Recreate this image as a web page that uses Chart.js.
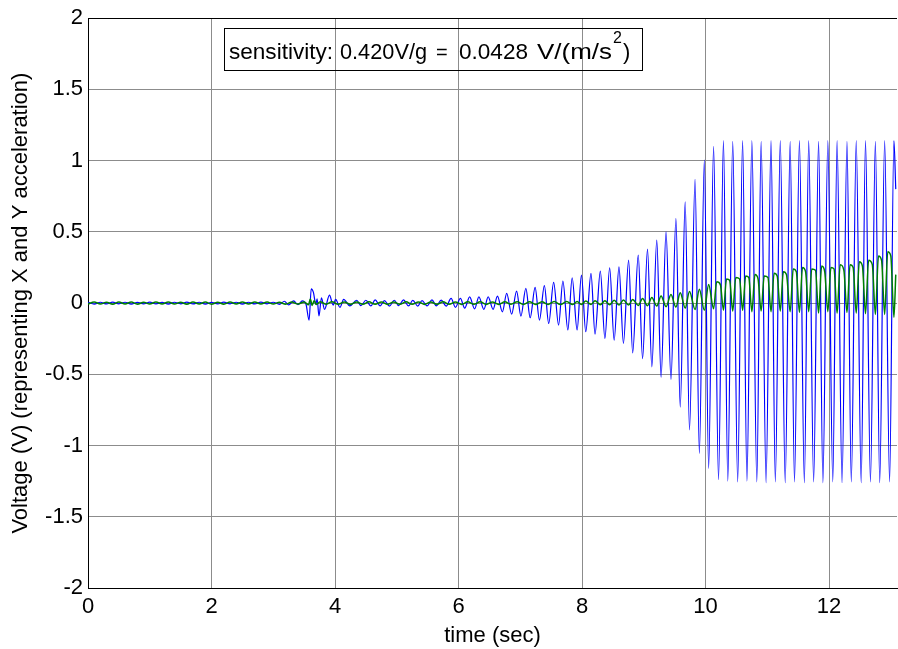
<!DOCTYPE html>
<html>
<head>
<meta charset="utf-8">
<script src="https://cdn.jsdelivr.net/npm/chart.js@4.4.0/dist/chart.umd.min.js"></script>
<style>
  html, body { margin: 0; padding: 0; background: #fff; }
  #wrap { width: 898px; height: 649px; }
</style>
</head>
<body>
<div id="wrap"><canvas id="c" width="898" height="649"></canvas></div>
<script>
var xTicks = [0, 2, 4, 6, 8, 10, 12];
var yTicks = [-2, -1.5, -1, -0.5, 0, 0.5, 1, 1.5, 2];

// blue trace (X acceleration), [time, volt]
var blueSeries = [
  [0.00,0.006],[0.10,-0.007],[0.20,0.006],[0.30,-0.006],[0.40,0.007],[0.50,-0.005],[0.60,0.006],[0.70,-0.007],[0.80,0.005],[0.90,-0.006],
  [1.00,0.007],[1.10,-0.006],[1.20,0.005],[1.30,-0.007],[1.40,0.006],[1.50,-0.005],[1.60,0.007],[1.70,-0.006],[1.80,0.006],[1.90,-0.007],
  [2.00,0.005],[2.10,-0.006],[2.20,0.007],[2.30,-0.005],[2.40,0.006],[2.50,-0.007],[2.60,0.006],[2.70,-0.006],[2.80,0.007],[2.90,-0.005],
  [3.00,0.006],[3.10,-0.009],[3.18,0.013],[3.25,-0.013],[3.33,0.016],[3.40,-0.011],[3.47,0.015],[3.53,-0.008],
  [3.58,-0.120],[3.615,0.100],[3.65,0.075],[3.69,-0.010],[3.71,0.030],[3.74,-0.090],[3.78,0.037],[3.83,-0.044],[3.91,0.056],[3.97,-0.014],
  [4.01,0.026],[4.08,-0.030],[4.14,0.026],[4.24,-0.020],[4.35,0.020],[4.42,-0.018],[4.50,0.020],[4.58,-0.020],[4.65,0.022],[4.73,-0.019],
  [4.80,0.018],[4.88,-0.021],[4.96,0.020],[5.03,-0.018],[5.11,0.022],[5.19,-0.020],[5.26,0.019],[5.34,-0.021],[5.41,0.018],[5.49,-0.020],
  [5.57,0.022],[5.64,-0.019],[5.72,0.021],[5.80,-0.021],[5.88,0.033],[5.95,-0.030],[6.03,0.033],[6.10,-0.035],[6.18,0.044],[6.26,-0.040],
  [6.33,0.044],[6.41,-0.044],[6.48,0.044],[6.56,-0.044],[6.63,0.049],[6.71,-0.061],[6.78,0.068],[6.86,-0.077],[6.94,0.084],[7.01,-0.091],
  [7.09,0.103],[7.16,-0.103],[7.24,0.110],[7.31,-0.119],[7.39,0.122],[7.46,-0.143],[7.54,0.145],[7.62,-0.154],[7.69,0.155],[7.77,-0.189],
  [7.84,0.178],[7.92,-0.189],[7.99,0.196],[8.06,-0.201],[8.145,0.208],[8.21,-0.218],[8.296,0.225],[8.37,-0.248],[8.447,0.248],[8.52,-0.260],
  [8.598,0.255],[8.67,-0.283],[8.754,0.302],[8.82,-0.349],[8.91,0.337],[8.98,-0.390],[9.06,0.379],[9.13,-0.447],[9.21,0.442],[9.28,-0.520],
  [9.36,0.500],[9.44,-0.535],[9.52,0.594],[9.59,-0.730],[9.67,0.711],[9.74,-0.890],[9.83,0.868],[9.90,-1.055],[9.98,1.003],[10.05,-1.160],
  [10.13,1.100],[10.21,-1.240],[10.29,1.140],[10.36,-1.250],[10.44,1.135],[10.52,-1.255],[10.60,1.140],[10.67,-1.250],[10.75,1.140],[10.83,-1.255],
  [10.90,1.135],[10.98,-1.260],[11.06,1.140],[11.13,-1.255],[11.21,1.140],[11.29,-1.260],[11.37,1.135],[11.44,-1.255],[11.52,1.140],[11.60,-1.260],
  [11.67,1.140],[11.75,-1.255],[11.83,1.135],[11.90,-1.260],[11.98,1.140],[12.06,-1.255],[12.13,1.140],[12.21,-1.260],[12.29,1.135],[12.36,-1.255],
  [12.44,1.140],[12.52,-1.260],[12.59,1.140],[12.67,-1.255],[12.75,1.135],[12.82,-1.260],[12.90,1.140],[12.98,-1.255],[13.05,1.140],[13.08,0.800]
];

// green trace (Y acceleration)
var greenSeries = [
  [0.00,-0.007],[0.10,0.008],[0.20,-0.007],[0.30,0.006],[0.40,-0.008],[0.50,0.008],[0.60,-0.006],[0.70,0.007],[0.80,-0.008],[0.90,0.006],
  [1.00,-0.007],[1.10,0.008],[1.20,-0.006],[1.30,0.008],[1.40,-0.007],[1.50,0.006],[1.60,-0.008],[1.70,0.008],[1.80,-0.006],[1.90,0.007],
  [2.00,-0.008],[2.10,0.006],[2.20,-0.008],[2.30,0.007],[2.40,-0.006],[2.50,0.008],[2.60,-0.007],[2.70,0.008],[2.80,-0.006],[2.90,0.007],
  [3.00,-0.007],[3.10,0.006],[3.20,-0.008],[3.30,0.007],[3.40,-0.007],[3.50,0.008],
  [3.57,-0.012],[3.60,0.028],[3.63,-0.016],[3.66,0.016],[3.70,-0.010],[3.76,0.010],
  [3.85,-0.008],[3.95,0.009],[4.05,-0.008],[4.15,0.008],[4.25,-0.009],[4.35,0.008],[4.45,-0.008],[4.55,0.009],[4.65,-0.008],[4.75,0.008],
  [4.85,-0.009],[4.95,0.008],[5.05,-0.008],[5.15,0.009],[5.25,-0.008],[5.35,0.008],[5.45,-0.009],[5.55,0.008],[5.65,-0.008],[5.75,0.009],
  [5.85,-0.008],[5.95,0.008],[6.05,-0.009],[6.15,0.009],[6.25,-0.008],[6.35,0.009],[6.45,-0.009],[6.55,0.008],[6.65,-0.009],[6.75,0.009],
  [6.85,-0.008],[6.95,0.010],[7.05,-0.009],[7.15,0.009],[7.25,-0.010],[7.35,0.010],[7.45,-0.009],[7.55,0.011],[7.65,-0.010],[7.75,0.011],
  [7.85,-0.010],[7.92,0.012],
  [7.99,-0.010],[8.06,0.014],[8.145,-0.010],[8.21,0.016],[8.296,-0.012],[8.37,0.017],[8.447,-0.012],[8.52,0.020],[8.598,-0.014],[8.67,0.022],
  [8.754,-0.014],[8.82,0.026],[8.91,-0.016],[8.98,0.032],[9.06,-0.018],[9.13,0.040],[9.21,-0.020],[9.28,0.050],[9.36,-0.025],[9.44,0.060],
  [9.52,-0.028],[9.59,0.072],[9.67,-0.035],[9.74,0.082],[9.83,-0.045],[9.90,0.097],[9.98,-0.050],[10.05,0.130],
  [10.13,-0.040],[10.18,0.150],[10.24,0.130],
  [10.29,-0.050],[10.34,0.170],[10.39,0.160],
  [10.44,-0.055],[10.49,0.180],[10.55,0.170],
  [10.60,-0.050],[10.65,0.190],[10.70,0.180],
  [10.75,-0.060],[10.80,0.200],[10.85,0.170],
  [10.90,-0.055],[10.95,0.190],[11.01,0.180],
  [11.06,-0.060],[11.11,0.210],[11.16,0.190],
  [11.21,-0.055],[11.26,0.220],[11.31,0.200],
  [11.37,-0.060],[11.42,0.240],[11.47,0.220],
  [11.52,-0.065],[11.57,0.250],[11.62,0.220],
  [11.67,-0.060],[11.72,0.240],[11.78,0.230],
  [11.83,-0.070],[11.88,0.260],[11.93,0.220],
  [11.98,-0.060],[12.03,0.250],[12.08,0.240],
  [12.13,-0.070],[12.18,0.270],[12.24,0.230],
  [12.29,-0.065],[12.34,0.270],[12.39,0.250],
  [12.44,-0.070],[12.49,0.290],[12.54,0.260],
  [12.59,-0.075],[12.64,0.300],[12.70,0.270],
  [12.75,-0.080],[12.80,0.330],[12.85,0.300],
  [12.90,-0.080],[12.95,0.360],[13.00,0.330],
  [13.05,-0.100],[13.08,0.200]
];

// note text pieces: [text, left x, right x (0 = natural width), baseline, size]
var note = [
  ['sensitivity:', 229, 333, 59, 22],
  ['0.420V/g', 340, 427, 59, 22],
  ['=', 436, 0, 59, 20],
  ['0.0428', 459, 528, 59, 22],
  ['V/(m/s', 537, 612, 59, 22],
  ['2', 613, 0, 43, 16],
  [')', 623, 0, 59, 22]
];

function toPoints(arr) {
  return arr.map(function (p) { return { x: p[0], y: p[1] }; });
}

var fontFam = '"Liberation Sans", Arial, Helvetica, sans-serif';
Chart.defaults.font.family = fontFam;
Chart.defaults.color = '#000';

var gridGray = '#8c8c8c';

// sensitivity note box
var noteBox = {
  id: 'noteBox',
  afterDraw: function (chart) {
    var ctx = chart.ctx;
    ctx.save();
    ctx.strokeStyle = '#000';
    ctx.lineWidth = 1;
    ctx.strokeRect(224.5, 28.5, 418, 42);
    ctx.fillStyle = '#000';
    ctx.textBaseline = 'alphabetic';
    note.forEach(function (n) {
      ctx.font = n[4] + 'px ' + fontFam;
      var w = ctx.measureText(n[0]).width;
      ctx.save();
      ctx.translate(n[1], n[3]);
      if (n[2] > 0) ctx.scale((n[2] - n[1]) / w, 1);
      ctx.fillText(n[0], 0, 0);
      ctx.restore();
    });
    ctx.restore();
  }
};

var chart = new Chart(document.getElementById('c'), {
  type: 'line',
  data: {
    datasets: [{
      label: 'X',
      data: toPoints(blueSeries),
      borderColor: '#0000ff',
      borderWidth: 1.2,
      pointRadius: 0,
      cubicInterpolationMode: 'monotone',
      order: 2
    }, {
      label: 'Y',
      data: toPoints(greenSeries),
      borderColor: '#008000',
      borderWidth: 1.5,
      pointRadius: 0,
      cubicInterpolationMode: 'monotone',
      order: 1
    }]
  },
  options: {
    responsive: false,
    devicePixelRatio: 1,
    animation: false,
    layout: { padding: { top: 18, right: 1, left: 0, bottom: 0 } },
    plugins: {
      legend: { display: false },
      tooltip: { enabled: false }
    },
    scales: {
      x: {
        type: 'linear',
        min: 0,
        max: 13.1,
        afterBuildTicks: function (s) { s.ticks = xTicks.map(function (v) { return { value: v }; }); },
        afterFit: function (s) { s.height = 61; },
        grid: {
          drawTicks: false,
          color: function (c) { return c.tick && c.tick.value === 0 ? '#000' : gridGray; },
          lineWidth: 1
        },
        border: { color: '#000', width: 1 },
        ticks: {
          font: { size: 22 },
          padding: 6,
          maxRotation: 0,
          autoSkip: false,
          callback: function (v) { return String(v); }
        },
        title: {
          display: true,
          text: 'time (sec)',
          font: { size: 22 },
          padding: { top: 0, bottom: 0 }
        }
      },
      y: {
        min: -2,
        max: 2,
        afterBuildTicks: function (s) { s.ticks = yTicks.map(function (v) { return { value: v }; }); },
        afterFit: function (s) { s.width = 88; },
        grid: {
          drawTicks: false,
          color: function (c) { return c.tick && (c.tick.value === 2 || c.tick.value === -2) ? '#000' : gridGray; },
          lineWidth: 1
        },
        border: { color: '#000', width: 1 },
        ticks: {
          font: { size: 22 },
          padding: 5,
          callback: function (v) { return String(v); }
        },
        title: {
          display: true,
          text: 'Voltage (V) (representing X and Y acceleration)',
          font: { size: 22 },
          padding: { top: 8, bottom: 0 }
        }
      }
    }
  },
  plugins: [noteBox]
});
</script>
</body>
</html>
